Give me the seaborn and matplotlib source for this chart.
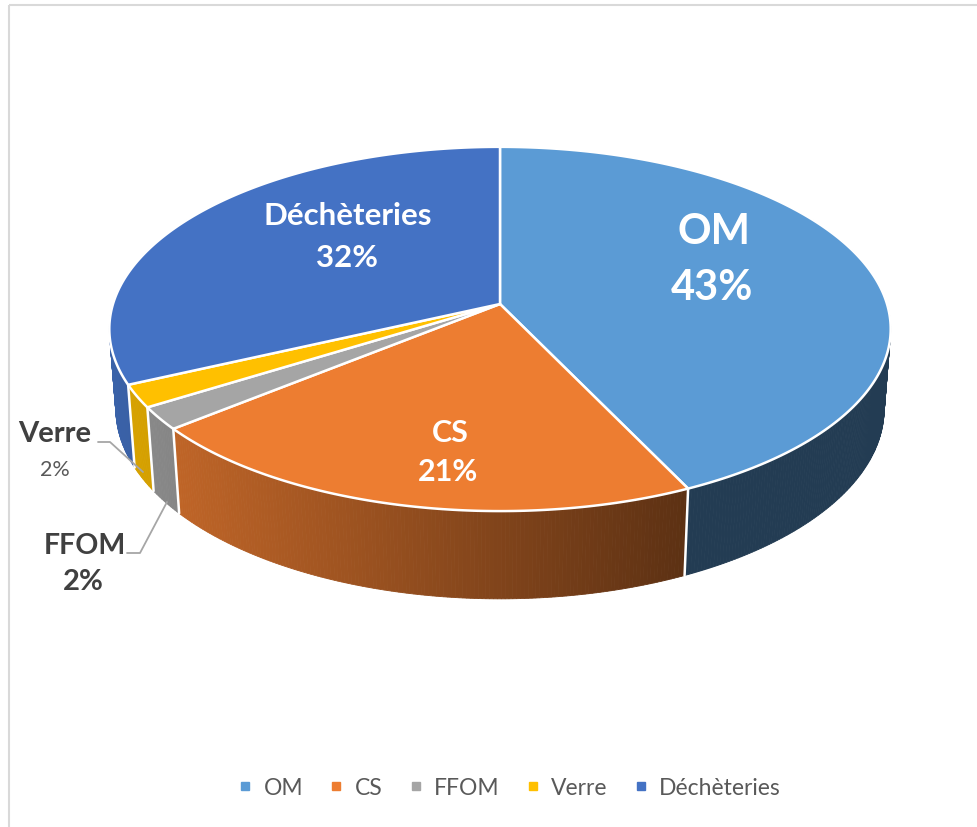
import numpy as np
import seaborn as sns
import matplotlib.pyplot as plt
from matplotlib.patches import Polygon, Rectangle
from matplotlib.lines import Line2D

sns.set_style("white")
plt.rcParams['font.family'] = ['Lato', 'DejaVu Sans']

# data
categories = ["OM", "CS", "FFOM", "Verre", "Déchèteries"]
shares = [43, 21, 2, 2, 32]
colors = ["#5B9BD5", "#ED7D31", "#A5A5A5", "#FFC000", "#4472C4"]

# 3d view settings (pixel coords)
CX, CY, S = 500, 305, 387
ELEV = np.radians(27.5)
SE, CE = np.sin(ELEV), np.cos(ELEV)
D = 6.47
H = 0.235


def project(theta, z=0.0):
    t = np.radians(theta)
    x, y = np.sin(t), np.cos(t)
    v = y * SE + z * CE
    w = y * CE - z * SE
    f = D / (D + w)
    return CX + S * x * f, CY - S * v * f


def shade(px):
    return float(np.clip(0.85 + (px - 120) * (0.39 - 0.85) / (688 - 120), 0.39, 0.86))


fig = plt.figure(figsize=(9.78, 8.28), dpi=100)
ax = fig.add_axes([0, 0, 1, 1])
ax.set_xlim(0, 978)
ax.set_ylim(828, 0)
ax.axis("off")

ax.add_patch(Rectangle((9, 6), 1200, 1000, fill=False, ec="#D9D9D9", lw=1.5))

vals = np.array(shares, dtype=float)
bounds = np.concatenate([[0], np.cumsum(vals) / vals.sum() * 360])

# side walls (front half only)
for i, c in enumerate(colors):
    a0, a1 = max(bounds[i], 90), min(bounds[i + 1], 270)
    if a1 <= a0:
        continue
    base = np.array(sns.desaturate(c, 1.0))
    steps = np.linspace(a0, a1, max(int((a1 - a0) * 2), 2) + 1)
    for s0, s1 in zip(steps[:-1], steps[1:]):
        p = [project(s0), project(s1), project(s1, -H), project(s0, -H)]
        col = base * shade((p[0][0] + p[1][0]) / 2)
        ax.add_patch(Polygon(p, closed=True, fc=col, ec=col, lw=0.6))
for b in bounds[1:-1]:
    if 90 < b < 270:
        x0, y0 = project(b)
        x1, y1 = project(b, -H)
        ax.plot([x0, x1], [y0, y1], color="white", lw=1.8)

# top faces
for i, c in enumerate(colors):
    ang = np.linspace(bounds[i], bounds[i + 1], 200)
    pts = [(CX, CY)] + [project(a) for a in ang]
    ax.add_patch(Polygon(pts, closed=True, fc=c, ec="white", lw=1.8, joinstyle="round"))

# labels
pct = [f"{v}%" for v in shares]
ax.text(714, 232, categories[0], color="white", fontsize=30, fontweight="bold", ha="center", va="center")
ax.text(712, 288, pct[0], color="white", fontsize=30, fontweight="bold", ha="center", va="center")
ax.text(348, 216, categories[4], color="white", fontsize=22.5, fontweight="bold", ha="center", va="center")
ax.text(347, 258, pct[4], color="white", fontsize=22.5, fontweight="bold", ha="center", va="center")
ax.text(450, 433, categories[1], color="white", fontsize=22, fontweight="bold", ha="center", va="center")
ax.text(448, 472, pct[1], color="white", fontsize=22, fontweight="bold", ha="center", va="center")
ax.text(55, 434, categories[3], color="#404040", fontsize=21, fontweight="bold", ha="center", va="center")
ax.text(55, 470, pct[3], color="#595959", fontsize=15.5, ha="center", va="center")
ax.text(85, 546, categories[2], color="#404040", fontsize=20.5, fontweight="bold", ha="center", va="center")
ax.text(83, 582, pct[2], color="#404040", fontsize=21, fontweight="bold", ha="center", va="center")

# leader lines
ax.plot([98, 110, 143], [443, 443, 473], color="#A6A6A6", lw=1.3)
ax.plot([127, 140, 167], [554, 554, 503], color="#A6A6A6", lw=1.3)

handles = [Line2D([], [], marker="s", ls="", color=c, markersize=6) for c in colors]
leg = ax.legend(handles, categories, loc="center", bbox_to_anchor=(508.5 / 978, 1 - 789 / 828),
                ncol=5, frameon=False, fontsize=16.5, labelcolor="#595959",
                handlelength=0.8, handletextpad=0.4, columnspacing=1.05)

fig.savefig("out.png", dpi=100)
